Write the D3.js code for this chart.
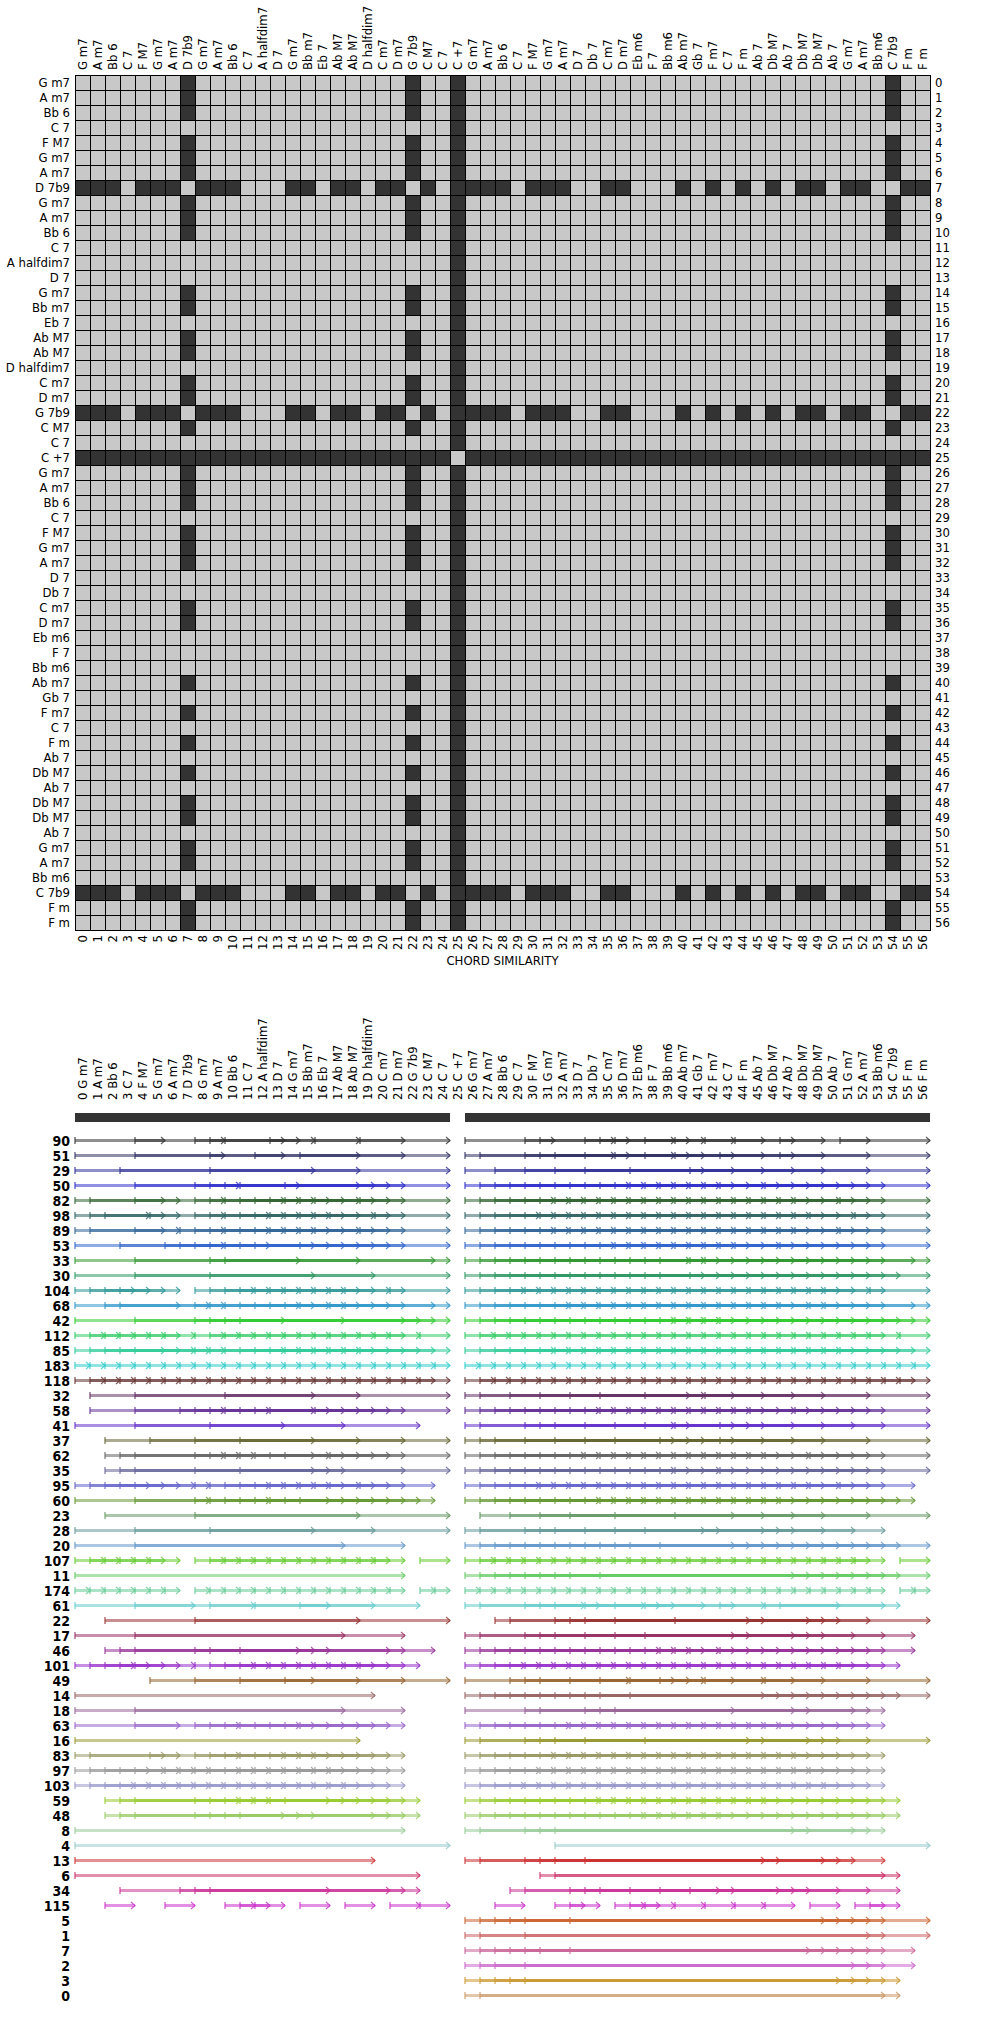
<!DOCTYPE html>
<html><head><meta charset="utf-8">
<script src="https://cdn.jsdelivr.net/npm/d3@7"></script>
<style>
body{margin:0;background:#fff}
svg text{font-family:"Liberation Sans Narrow","Arial Narrow","DejaVu Sans Condensed",sans-serif;font-size:13px;fill:#000}
svg text.num{font-family:"DejaVu Sans Condensed","Liberation Sans Narrow",sans-serif;font-weight:bold;font-size:14px}
</style></head><body>
<svg id="chart" width="1005" height="2030"></svg>
<script>
// ---------- DATA ----------
const chords = ["G m7","A m7","Bb 6","C 7","F M7","G m7","A m7","D 7b9","G m7","A m7","Bb 6","C 7","A halfdim7","D 7","G m7","Bb m7","Eb 7","Ab M7","Ab M7","D halfdim7","C m7","D m7","G 7b9","C M7","C 7","C +7","G m7","A m7","Bb 6","C 7","F M7","G m7","A m7","D 7","Db 7","C m7","D m7","Eb m6","F 7","Bb m6","Ab m7","Gb 7","F m7","C 7","F m","Ab 7","Db M7","Ab 7","Db M7","Db M7","Ab 7","G m7","A m7","Bb m6","C 7b9","F m","F m"];

// similarity matrix: 1 = dissimilar (dark cell), 0 = similar (light cell)
const similarity = [
"0000000100 0000000000 0010010000 0000000000 0000000000 0000100",
"0000000100 0000000000 0010010000 0000000000 0000000000 0000100",
"0000000100 0000000000 0010010000 0000000000 0000000000 0000100",
"0000000000 0000000000 0000010000 0000000000 0000000000 0000000",
"0000000100 0000000000 0010010000 0000000000 0000000000 0000100",
"0000000100 0000000000 0010010000 0000000000 0000000000 0000100",
"0000000100 0000000000 0010010000 0000000000 0000000000 0000100",
"1110111011 1000110110 1101011110 1110011000 1010101011 0110011",
"0000000100 0000000000 0010010000 0000000000 0000000000 0000100",
"0000000100 0000000000 0010010000 0000000000 0000000000 0000100",
"0000000100 0000000000 0010010000 0000000000 0000000000 0000100",
"0000000000 0000000000 0000010000 0000000000 0000000000 0000000",
"0000000000 0000000000 0000010000 0000000000 0000000000 0000000",
"0000000000 0000000000 0000010000 0000000000 0000000000 0000000",
"0000000100 0000000000 0010010000 0000000000 0000000000 0000100",
"0000000100 0000000000 0010010000 0000000000 0000000000 0000100",
"0000000000 0000000000 0000010000 0000000000 0000000000 0000000",
"0000000100 0000000000 0010010000 0000000000 0000000000 0000100",
"0000000100 0000000000 0010010000 0000000000 0000000000 0000100",
"0000000000 0000000000 0000010000 0000000000 0000000000 0000000",
"0000000100 0000000000 0010010000 0000000000 0000000000 0000100",
"0000000100 0000000000 0010010000 0000000000 0000000000 0000100",
"1110111011 1000110110 1101011110 1110011000 1010101011 0110011",
"0000000100 0000000000 0010010000 0000000000 0000000000 0000100",
"0000000000 0000000000 0000010000 0000000000 0000000000 0000000",
"1111111111 1111111111 1111101111 1111111111 1111111111 1111111",
"0000000100 0000000000 0010010000 0000000000 0000000000 0000100",
"0000000100 0000000000 0010010000 0000000000 0000000000 0000100",
"0000000100 0000000000 0010010000 0000000000 0000000000 0000100",
"0000000000 0000000000 0000010000 0000000000 0000000000 0000000",
"0000000100 0000000000 0010010000 0000000000 0000000000 0000100",
"0000000100 0000000000 0010010000 0000000000 0000000000 0000100",
"0000000100 0000000000 0010010000 0000000000 0000000000 0000100",
"0000000000 0000000000 0000010000 0000000000 0000000000 0000000",
"0000000000 0000000000 0000010000 0000000000 0000000000 0000000",
"0000000100 0000000000 0010010000 0000000000 0000000000 0000100",
"0000000100 0000000000 0010010000 0000000000 0000000000 0000100",
"0000000000 0000000000 0000010000 0000000000 0000000000 0000000",
"0000000000 0000000000 0000010000 0000000000 0000000000 0000000",
"0000000000 0000000000 0000010000 0000000000 0000000000 0000000",
"0000000100 0000000000 0010010000 0000000000 0000000000 0000100",
"0000000000 0000000000 0000010000 0000000000 0000000000 0000000",
"0000000100 0000000000 0010010000 0000000000 0000000000 0000100",
"0000000000 0000000000 0000010000 0000000000 0000000000 0000000",
"0000000100 0000000000 0010010000 0000000000 0000000000 0000100",
"0000000000 0000000000 0000010000 0000000000 0000000000 0000000",
"0000000100 0000000000 0010010000 0000000000 0000000000 0000100",
"0000000000 0000000000 0000010000 0000000000 0000000000 0000000",
"0000000100 0000000000 0010010000 0000000000 0000000000 0000100",
"0000000100 0000000000 0010010000 0000000000 0000000000 0000100",
"0000000000 0000000000 0000010000 0000000000 0000000000 0000000",
"0000000100 0000000000 0010010000 0000000000 0000000000 0000100",
"0000000100 0000000000 0010010000 0000000000 0000000000 0000100",
"0000000000 0000000000 0000010000 0000000000 0000000000 0000000",
"1110111011 1000110110 1101011110 1110011000 1010101011 0110011",
"0000000100 0000000000 0010010000 0000000000 0000000000 0000100",
"0000000100 0000000000 0010010000 0000000000 0000000000 0000100"
];

// sections of the tune (chord positions)
const sections = [[0, 25], [26, 57]];

// repeated patterns: id, length (in chords), start positions of each occurrence
const patternIds = [90,51,29,50,82,98,89,53,33,30,104,68,42,112,85,183,118,32,58,41,37,62,35,95,60,23,28,20,107,11,174,61,22,17,46,101,49,14,18,63,16,83,97,103,59,48,8,4,13,6,34,115,5,1,7,2,3,0];
const patternLengths = [6,10,16,11,6,5,6,10,15,16,4,7,14,2,6,1,2,15,9,14,14,8,14,5,9,17,16,18,2,22,1,8,17,18,13,4,11,20,18,7,19,6,5,4,9,12,22,25,20,23,14,2,24,27,23,26,25,28];
const patternStarts = [
[0,4,8,9,10,13,16,19,26,30,31,34,35,36,38,40,42,44,47,51],
[0,4,9,12,15,26,27,30,31,32,34,36,38,40,43,47],
[0,3,9,26,28,30,32,34,37,41],
[0,4,8,9,10,11,14,26,27,28,29,30,31,32,33,34,35,36,37,38,39,40,41,42,43,46],
[0,1,4,8,9,10,11,12,13,14,15,16,19,26,27,28,29,30,31,32,33,34,35,36,37,38,39,40,41,42,43,44,45,46,47,48,51],
[0,1,2,5,8,9,10,11,12,13,14,15,16,17,20,26,27,28,29,30,31,32,33,34,35,36,37,38,39,40,41,42,43,44,45,46,47,48,49,52],
[0,1,4,7,8,9,10,11,12,13,14,15,16,19,26,27,28,29,30,31,32,33,34,35,36,37,38,39,40,41,42,43,44,45,46,47,48,51],
[0,3,6,7,8,9,10,11,12,15,26,27,28,29,30,31,32,33,34,35,36,37,38,39,40,41,42,43,44,47],
[0,4,9,10,26,27,28,29,30,31,32,33,34,35,36,37,38,39,41,42],
[0,4,9,26,27,28,29,30,31,32,33,34,35,36,37,38,39,41],
[0,1,2,3,8,9,10,11,12,13,14,15,16,17,18,21,26,27,28,29,30,31,32,33,34,35,36,37,38,39,40,41,42,43,44,45,46,47,48,49,50,53],
[0,2,3,8,9,10,11,12,13,14,15,17,18,26,27,28,29,30,31,32,33,34,35,36,37,38,39,40,41,42,43,44,45,46,47,49,50],
[0,4,8,9,10,11,26,27,28,29,30,31,32,33,34,35,36,37,38,39,40,41,42,43],
[0,1,2,3,4,5,6,8,9,10,11,12,13,14,15,16,17,18,19,20,21,23,26,27,28,29,30,31,32,33,34,35,36,37,38,39,40,41,42,43,44,45,46,47,48,49,50,51,52,53,55],
[0,1,2,3,4,8,9,10,11,12,13,14,15,16,17,18,19,26,27,28,29,30,31,32,33,34,35,36,37,38,39,40,41,42,43,44,45,46,47,48,49,50,51],
[0,1,2,3,4,5,6,7,8,9,10,11,12,13,14,15,16,17,18,19,20,21,22,23,24,26,27,28,29,30,31,32,33,34,35,36,37,38,39,40,41,42,43,44,45,46,47,48,49,50,51,52,53,54,55,56],
[0,1,2,3,4,5,6,7,8,9,10,11,12,13,14,15,16,17,18,19,20,21,22,23,26,27,28,29,30,31,32,33,34,35,36,37,38,39,40,41,42,43,44,45,46,47,48,49,50,51,52,53,54,55],
[1,4,10,26,27,29,31,33,35,38,42],
[1,4,7,8,9,10,11,12,13,16,26,27,28,29,30,31,32,33,34,35,36,37,38,39,40,41,42,43,44,45,48],
[0,4,9,26,27,30,31,32,34,36,38,40,43],
[2,5,8,11,26,27,28,30,32,34,36,39,43],
[2,3,4,8,9,10,11,12,13,14,17,26,27,28,29,30,31,32,33,34,35,36,37,38,39,40,41,42,43,44,45,46,49],
[2,3,4,8,11,26,27,28,29,30,31,32,33,34,35,36,37,38,39,40,43],
[0,1,2,3,4,8,9,10,11,12,13,14,15,16,17,19,26,27,28,29,30,31,32,33,34,35,36,37,38,39,40,41,42,43,44,45,46,47,48,49,51],
[0,4,8,9,10,11,12,13,14,15,26,27,28,29,30,31,32,33,34,35,36,37,38,39,40,41,42,43,44,45,46,47],
[2,8,27,29,31,33,36,40],
[0,4,9,26,27,30,31,32,34,36,38],
[0,4,26,27,28,29,30,31,32,33,34,35,36,37,39],
[0,1,2,3,4,5,8,9,10,11,12,13,14,15,16,17,18,19,20,23,26,27,28,29,30,31,32,33,34,35,36,37,38,39,40,41,42,43,44,45,46,47,48,49,50,51,52,55],
[0,26,27,28,29,30,31,32,33,35],
[0,1,2,3,4,5,6,8,9,10,11,12,13,14,15,16,17,18,19,20,21,23,24,26,27,28,29,30,31,32,33,34,35,36,37,38,39,40,41,42,43,44,45,46,47,48,49,50,51,52,53,55,56],
[0,4,9,12,15,26,27,30,31,32,34,36,38,43,46,47],
[2,8,28,29,32,33,34,36,40],
[0,4,26,27,30,31,32,34,36,38],
[2,3,4,8,9,11,26,27,28,29,30,31,32,33,34,35,36,37,38,39,40,41,43],
[0,1,2,3,4,8,9,10,11,12,13,14,15,16,17,18,19,26,27,28,29,30,31,32,33,34,35,36,37,38,39,40,41,42,43,44,45,46,47,48,49,50,51],
[5,8,11,14,26,29,30,31,33,35,37,39,42,46],
[0,26,27,28,29,30,31,32,33,34,35,37],
[0,4,26,30,31,34,35,36],
[0,4,8,9,10,11,12,13,14,15,26,27,28,29,30,31,32,33,34,35,36,37,38,39,40,41,42,43,44,45,46,47],
[0,26,27,30,31,32,34,38],
[0,1,5,8,9,10,11,12,13,14,15,16,26,27,28,29,30,31,32,33,34,35,36,37,38,39,40,41,42,43,44,45,46,47,48],
[0,1,2,3,4,6,7,8,9,10,11,12,13,14,15,16,17,26,27,28,29,30,31,32,33,34,35,36,37,38,39,40,41,42,43,44,45,46,47,48,49],
[0,1,2,3,4,5,6,7,8,9,10,11,12,13,14,15,16,17,18,26,27,28,29,30,31,32,33,34,35,36,37,38,39,40,41,42,43,44,45,46,47,48,49,50],
[2,3,4,8,9,10,11,12,13,14,26,27,28,29,30,31,32,33,34,35,36,37,38,39,40,41,42,43,44,45,46],
[2,3,4,8,9,10,11,26,27,28,29,30,31,32,33,34,35,36,37,38,39,40,41,42,43],
[0,26,27,30,31,32],
[0,32],
[0,26,27,30,31,32,34],
[0,31,32],
[3,7,8,9,29,30,33,34,35,37,39,41],
[2,6,10,11,12,15,18,21,23,28,32,33,36,37,38,40,42,44,46,49,52,53],
[26,27,28,29,30,33],
[26,27,30],
[26,27,28,29,30,31,33],
[26,27,28,30],
[26,27,28,29,30],
[26,27]
];
const patternColors = ["#333333","#333366","#333399","#3333cc","#336633","#336666","#336699","#3366cc","#339933","#339966","#339999","#3399cc","#33cc33","#33cc66","#33cc99","#33cccc","#663333","#663366","#663399","#6633cc","#666633","#666666","#666699","#6666cc","#669933","#669966","#669999","#6699cc","#66cc33","#66cc66","#66cc99","#66cccc","#993333","#993366","#993399","#9933cc","#996633","#996666","#996699","#9966cc","#999933","#999966","#999999","#9999cc","#99cc33","#99cc66","#99cc99","#99cccc","#cc3333","#cc3366","#cc3399","#cc33cc","#cc6633","#cc6666","#cc6699","#cc66cc","#cc9933","#cc9966"];

// ---------- DRAW ----------
const svg = d3.select("#chart");
const idx = d3.range(chords.length);
const band = d3.scaleBand().domain(idx).range([75, 930]);
const cell = band.bandwidth();

// matrix
const mat = svg.append("g");
const cells = [];
similarity.forEach((row, i) => {
  row.replace(/ /g, "").split("").forEach((v, j) => cells.push({i, j, v: +v}));
});
mat.selectAll("rect").data(cells).join("rect")
  .attr("x", d => band(d.j)).attr("y", d => band(d.i))
  .attr("width", cell).attr("height", cell)
  .attr("fill", d => d.v ? "#333333" : "#c8c8c8")
  .attr("stroke", "#000").attr("stroke-width", 1)
  .attr("shape-rendering", "crispEdges");

mat.selectAll("text.rl").data(idx).join("text").attr("class", "rl")
  .attr("x", 70).attr("y", d => band(d) + cell / 2).attr("dy", "0.35em")
  .attr("text-anchor", "end").text(d => chords[d]);
mat.selectAll("text.cl").data(idx).join("text").attr("class", "cl")
  .attr("transform", d => `translate(${band(d) + cell / 2},70) rotate(-90)`)
  .attr("dy", "0.35em").attr("text-anchor", "start").text(d => chords[d]);
mat.selectAll("text.rn").data(idx).join("text").attr("class", "rn")
  .attr("x", 935).attr("y", d => band(d) + cell / 2).attr("dy", "0.35em")
  .attr("text-anchor", "start").text(d => d);
mat.selectAll("text.cn").data(idx).join("text").attr("class", "cn")
  .attr("transform", d => `translate(${band(d) + cell / 2},935) rotate(-90)`)
  .attr("dy", "0.35em").attr("text-anchor", "end").text(d => d);
mat.append("text").attr("x", 502.5).attr("y", 965).attr("text-anchor", "middle").text("CHORD SIMILARITY");

// patterns chart
const x = d3.scaleLinear().domain([0, 57]).range([75, 930]);
const rowY = d3.scalePoint().domain(d3.range(patternIds.length)).range([1140.5, 1140.5 + 15 * (patternIds.length - 1)]);
const pat = svg.append("g");

pat.selectAll("text.hl").data(idx).join("text").attr("class", "hl")
  .attr("transform", d => `translate(${x(d + 0.5)},1100) rotate(-90)`)
  .attr("dy", "0.35em").attr("text-anchor", "start").text(d => `${d} ${chords[d]}`);

pat.selectAll("rect.sec").data(sections).join("rect").attr("class", "sec")
  .attr("x", d => x(d[0])).attr("width", d => x(d[1]) - x(d[0]))
  .attr("y", 1113).attr("height", 9).attr("fill", "#333333");

patternIds.forEach((id, r) => {
  const y = rowY(r);
  const col = patternColors[r];
  const L = patternLengths[r];
  const occ = patternStarts[r].map(s => ({s, e: s + L}));
  const g = pat.append("g");
  g.append("text").attr("class", "num").attr("x", 70).attr("y", y).attr("dy", "0.36em")
    .attr("text-anchor", "end").text(id);
  g.selectAll("line.seg").data(occ).join("line").attr("class", "seg")
    .attr("x1", d => x(d.s)).attr("x2", d => x(d.e)).attr("y1", y).attr("y2", y)
    .attr("stroke", col).attr("stroke-width", 3).attr("stroke-opacity", 0.55);
  g.selectAll("line.tk").data(occ).join("line").attr("class", "tk")
    .attr("x1", d => x(d.s)).attr("x2", d => x(d.s)).attr("y1", y - 3.5).attr("y2", y + 3.5)
    .attr("stroke", col).attr("stroke-width", 1.2).attr("stroke-opacity", 0.9);
  g.selectAll("path.ah").data(occ).join("path").attr("class", "ah")
    .attr("d", d => `M${x(d.e) - 4},${y - 3.5}L${x(d.e)},${y}L${x(d.e) - 4},${y + 3.5}`)
    .attr("fill", "none").attr("stroke", col).attr("stroke-width", 1.2).attr("stroke-opacity", 0.8);
});
</script>
</body></html>
